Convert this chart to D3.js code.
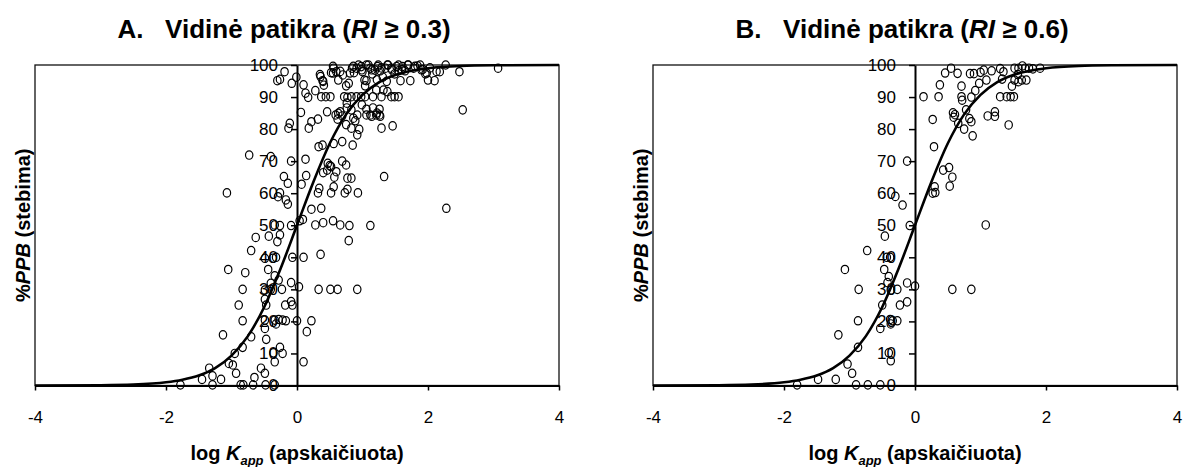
<!DOCTYPE html>
<html>
<head>
<meta charset="utf-8">
<script src="https://cdn.jsdelivr.net/npm/d3@7"></script>
<style>
  body { margin: 0; background: #fff; }
  text { font-family: "Liberation Sans", Arial, sans-serif; }
</style>
</head>
<body>
<div id="chart"></div>
<script>
// axis ticks
const xTicks = [-4, -2, 0, 2, 4];
const yTicks = [0, 10, 20, 30, 40, 50, 60, 70, 80, 90, 100];

// fitted curve
const fitX = [-4, -3, -2.5, -2, -1.75, -1.5, -1.25, -1, -0.75, -0.5, -0.25, 0, 0.25, 0.5, 0.75, 1, 1.25, 1.5, 1.75, 2, 2.5, 3, 4];
const fitY = [0, 0.1, 0.3, 1, 1.8, 3.1, 5.4, 9.3, 15.4, 24.5, 36.5, 50, 63.5, 75.5, 84.6, 90.7, 94.6, 96.9, 98.2, 99, 99.7, 99.9, 100];

// panel A: RI >= 0.3  [log Kapp, %PPB]
const pointsA = [
  [-0.19,97.9],[-0.26,95.5],[-0.30,95.1],[-0.08,94.3],[-0.01,96.2],[0.10,93.8],[0.13,91.2],[0.17,89.9],
  [0.28,92.0],[0.36,96.4],[0.39,95.1],[0.41,93.7],[0.52,97.6],[0.56,99.0],[0.60,97.9],[0.63,95.3],
  [0.70,96.9],[0.75,93.5],[0.79,94.3],[0.84,99.0],[0.87,97.6],[0.91,99.0],[0.98,99.5],[1.00,97.9],
  [1.03,95.3],[1.06,100],[1.12,99.0],[1.15,97.2],[1.19,98.4],[1.23,99.5],[1.27,98.2],[1.31,96.2],
  [1.35,99.0],[1.38,100],[1.44,99.0],[1.49,97.2],[1.52,99.5],[1.55,98.2],[1.58,95.1],[1.61,99.5],
  [1.65,98.2],[1.69,100],[1.73,95.1],[1.78,99.0],[1.84,99.7],[1.88,100],[1.92,98.6],[1.96,97.2],
  [2.00,95.3],[2.10,95.1],[2.18,97.9],[2.27,100],[2.48,97.9],[3.07,99.0],
  [0.35,97.0],[0.40,94.9],[0.55,97.5],[0.55,99.6],[0.66,98.0],[0.81,97.5],[0.86,99.6],[0.94,100],
  [0.99,98.5],[1.09,100],[1.14,98.5],[1.24,100],[1.29,99.1],[1.39,100],[1.45,98.5],[1.55,100],
  [1.60,98.5],[1.70,100],[1.80,99.6],[1.90,98.5],[1.98,97.5],[2.03,99.1],[2.13,98.0],[1.06,95.1],
  [1.22,95.4],[1.37,94.9],
  [0.37,90.1],[0.44,90.1],[0.51,90.1],[0.72,90.1],[0.77,89.9],[0.83,90.1],[0.91,90.1],[0.98,90.1],
  [1.04,90.1],[1.16,90.1],[1.29,90.1],[1.38,91.7],[1.44,90.1],[1.49,90.1],[1.55,90.1],[1.21,92.2],
  [1.32,92.2],[1.04,93.5],[2.53,86.0],[0.06,85.2],
  [0.76,88.1],[0.76,86.6],[0.99,87.6],[1.16,86.6],[1.22,85.0],[1.27,84.0],[1.14,84.0],
  [0.46,85.4],[0.59,84.4],[0.63,84.9],[0.66,85.4],[0.69,84.1],[0.62,83.1],[0.83,86.0],[0.86,83.4],
  [0.92,84.4],[1.06,84.4],[1.12,84.4],[1.21,84.4],[1.26,84.4],[1.06,86.2],[1.26,86.2],
  [-0.11,81.8],[-0.13,80.3],[0.22,82.3],[0.18,80.3],[0.32,83.1],[0.75,81.4],[0.83,80.3],[0.89,82.6],
  [0.95,79.9],[0.92,78.2],[1.29,80.3],[1.46,81.0],
  [0.33,74.5],[0.39,75.0],[0.56,75.5],[0.69,76.1],[0.85,75.0],[-0.73,71.9],[-0.40,71.4],[-0.09,70.0],
  [0.13,70.6],[0.47,69.3],[0.52,68.3],[0.69,70.0],[0.75,68.8],
  [-0.20,65.2],[-0.14,63.1],[0.07,62.8],[0.14,65.5],[0.40,66.4],[0.46,67.2],[0.50,68.6],[0.57,65.0],
  [0.77,64.7],[0.83,64.7],[1.33,65.2],[0.60,66.7],
  [-1.07,60.1],[-0.29,58.9],[-0.26,60.1],[-0.17,57.9],[-0.14,56.6],[0.32,60.1],[0.34,61.5],[0.52,60.1],
  [0.56,62.0],[0.73,60.1],[0.77,61.2],[0.93,60.1],
  [2.28,55.3],[0.22,55.0],[0.37,55.3],
  [0.04,51.4],[0.09,51.8],[0.28,50.1],[0.40,50.8],[0.55,51.4],[0.66,50.1],[0.80,49.9],[1.12,49.9],
  [-0.09,49.9],[-0.26,49.9],[-0.34,50.1],[0.79,45.2],
  [-0.63,46.2],[-0.43,46.6],[-0.26,47.0],[-0.30,44.9],[-0.70,42.1],[-0.49,39.7],[-0.37,39.7],[-0.32,40.0],
  [-0.07,40.0],[0.10,40.0],[0.36,40.9],[-1.05,36.2],[-0.79,35.2],[-0.44,36.2],[-0.34,34.2],[-0.40,31.9],
  [-0.28,32.9],[-0.09,32.1],[-0.83,30.0],[-0.49,29.8],[-0.40,30.0],[-0.23,30.0],[0.03,30.8],[0.33,30.0],
  [0.51,30.0],[0.62,30.0],[0.92,30.0],[-0.49,26.9],[-0.47,25.1],[-0.89,25.1],[-0.18,25.1],[-0.09,26.2],
  [-0.07,25.1],[-0.83,20.2],[-0.49,20.4],[-0.34,20.4],[-0.32,19.2],[-0.28,20.6],[-0.22,20.4],[-0.17,20.2],
  [0.00,20.2],[0.22,20.2],[-0.49,17.8],[-1.13,15.8],[-0.70,15.2],[-0.47,14.4],[0.15,16.8],[-0.83,11.9],
  [-0.95,10.0],[-0.26,11.9],[-0.22,10.0],[-0.36,10.2],[-1.04,6.9],[-0.98,6.4],[-0.93,3.8],[-0.55,5.4],
  [-0.49,3.8],[-0.34,7.4],[0.10,7.4],[-1.34,5.4],[-1.29,3.0],[-1.45,1.9],[-1.16,1.9],[-0.65,2.5],
  [-1.78,0.2],[-1.29,0.2],[-0.86,0.2],[-0.82,0.2],[-0.67,0.2],[-0.48,0.2],[-0.34,0.2]
];

// panel B: RI >= 0.6
const pointsB = [
  [-0.12,70.0],[-0.30,59.0],[-0.19,56.3],[-0.08,49.9],[-0.46,46.6],[0.13,90.1],[0.36,90.1],[0.27,83.0],
  [0.38,93.8],[0.46,97.5],[0.55,99.0],[0.29,74.5],[0.43,67.2],[0.52,68.0],[0.57,65.0],[0.53,62.2],
  [0.27,60.0],[0.31,60.2],[0.30,62.0],[0.58,85.1],[0.59,83.7],[0.61,84.5],[0.65,97.4],[0.71,93.4],
  [0.71,90.1],[0.72,89.0],[0.66,81.8],[0.75,80.0],[0.78,86.0],[0.83,83.3],[0.86,82.3],[0.88,77.9],
  [0.86,90.0],[0.92,92.0],[0.98,94.3],[0.84,97.3],[0.90,97.3],[1.00,97.7],[1.05,98.4],[1.09,95.3],
  [1.17,98.2],[1.30,98.9],[1.35,97.9],[1.33,95.6],[1.11,84.1],[1.22,85.4],[1.22,84.0],[1.43,81.3],
  [1.30,90.1],[1.40,90.1],[1.46,90.1],[1.51,90.1],[1.52,95.3],[1.58,94.8],[1.63,95.3],[1.70,95.3],
  [1.48,93.4],[1.52,99.0],[1.58,99.0],[1.64,99.7],[1.68,99.0],[1.74,99.0],[1.80,98.8],[1.91,99.0],
  [1.57,97.0],
  [1.08,50.1],[-0.73,42.1],[-0.43,40.0],[-0.38,40.0],[-1.07,36.2],[-0.47,36.2],[-0.40,34.0],[-0.42,32.1],
  [-0.86,30.0],[-0.37,29.8],[-0.27,30.0],[-0.12,32.0],[0.00,31.0],[0.57,30.0],[0.86,30.0],[-0.50,25.1],
  [-0.23,25.1],[-0.12,26.1],[-0.87,20.2],[-0.38,20.6],[-0.34,20.2],[-0.27,20.2],[-0.37,19.2],[-0.53,17.8],
  [-1.17,15.8],[-0.87,11.9],[-0.40,10.2],[-0.37,7.7],[-1.03,6.7],[-0.96,3.8],[-1.48,1.9],[-1.21,1.9],
  [-1.80,0.2],[-0.90,0.2],[-0.72,0.2],[-0.53,0.2]
];

const W = 1183, H = 467;
const svg = d3.select("#chart").append("svg").attr("width", W).attr("height", H);

function drawPanel(opts) {
  const x = d3.scaleLinear().domain([-4, 4]).range([opts.left, opts.right]);
  const y = d3.scaleLinear().domain([0, 100]).range([385.5, 65]);
  const g = svg.append("g");

  // plot area border
  g.append("rect")
    .attr("x", x(-4)).attr("y", y(100))
    .attr("width", x(4) - x(-4)).attr("height", y(0) - y(100))
    .attr("fill", "none").attr("stroke", "#111").attr("stroke-width", 1.3);

  // y axis sits at x = 0
  const ya = g.append("g").attr("transform", `translate(${x(0)},0)`)
    .call(d3.axisLeft(y).tickValues(yTicks).tickSize(6).tickSizeOuter(0).tickPadding(13).tickFormat(d => d));
  ya.select(".domain").attr("stroke-width", 2);
  ya.selectAll(".tick line").attr("stroke-width", 1.5);
  ya.selectAll("text").attr("font-size", 17).attr("fill", "#000");

  // x axis sits at y = 0
  const xa = g.append("g").attr("transform", `translate(0,${y(0)})`)
    .call(d3.axisBottom(x).tickValues(xTicks).tickSize(5).tickSizeOuter(0).tickPadding(20).tickFormat(d => String(d)));
  xa.select(".domain").attr("stroke-width", 2.2);
  xa.selectAll(".tick line").attr("stroke-width", 1.5);
  xa.selectAll("text").attr("font-size", 17).attr("fill", "#000");

  // observations
  g.append("g").selectAll("ellipse").data(opts.points).join("ellipse")
    .attr("cx", d => x(d[0])).attr("cy", d => y(d[1]))
    .attr("rx", 3.7).attr("ry", 4.2)
    .attr("fill", "none").attr("stroke", "#000").attr("stroke-width", 1.2);

  // fitted curve
  const line = d3.line().x(d => x(d[0])).y(d => y(d[1])).curve(d3.curveMonotoneX);
  g.append("path").datum(d3.zip(fitX, fitY))
    .attr("d", line).attr("fill", "none").attr("stroke", "#000").attr("stroke-width", 2.6);

  // title
  const cx = (opts.left + opts.right) / 2;
  const t = g.append("text").attr("x", cx - 13).attr("y", 38)
    .attr("text-anchor", "middle").attr("font-size", 26).attr("font-weight", "bold");
  t.append("tspan").text(opts.letter + "\u00a0\u00a0\u00a0Vidinė patikra (");
  t.append("tspan").attr("font-style", "italic").text("RI");
  t.append("tspan").text(" ≥ " + opts.ri + ")");

  // x axis title
  const xt = g.append("text").attr("x", cx).attr("y", 460)
    .attr("text-anchor", "middle").attr("font-size", 20).attr("font-weight", "bold");
  xt.append("tspan").text("log ");
  xt.append("tspan").attr("font-style", "italic").text("K");
  xt.append("tspan").attr("font-style", "italic").attr("font-size", 13).attr("dy", 5).text("app");
  xt.append("tspan").attr("dy", -5).text(" (apskaičiuota)");

  // y axis title
  const yt = g.append("text")
    .attr("transform", `translate(${opts.left - 5},${(y(0) + y(100)) / 2}) rotate(-90)`)
    .attr("text-anchor", "middle").attr("font-size", 20).attr("font-weight", "bold");
  yt.append("tspan").text("%");
  yt.append("tspan").attr("font-style", "italic").text("PPB");
  yt.append("tspan").text(" (stebima)");
}

drawPanel({ left: 35, right: 559, letter: "A.", ri: "0.3", points: pointsA });
drawPanel({ left: 653, right: 1177, letter: "B.", ri: "0.6", points: pointsB });
</script>
</body>
</html>
